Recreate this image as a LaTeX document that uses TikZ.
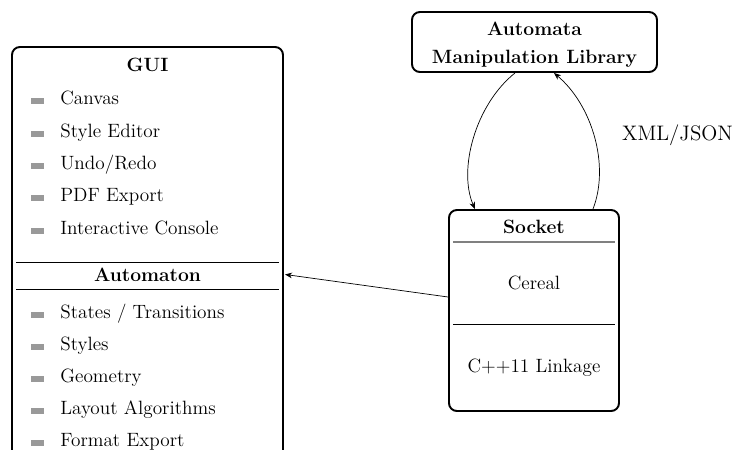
\documentclass[tikz,border=0pt]{standalone}
\usetikzlibrary{fit,calc,arrows.meta}
\begin{document}
\begin{tikzpicture}[x=0.5714pt,y=-0.5714pt,
  every node/.style={font=\fontsize{11pt}{13.6pt}\selectfont},
  frame/.style={draw, line width=1.1pt, rounded corners=4.5pt, inner sep=0pt, fill=white},
  title/.style={font=\fontsize{11pt}{13.6pt}\selectfont\bfseries, inner sep=0pt, anchor=base},
  plain/.style={inner sep=0pt, anchor=base},
  item/.style={anchor=base west, inner sep=0pt},
  bul/.style={fill=black!40, draw=none},
  sep/.style={line width=0.5pt},
  graysep/.style={line width=0.8pt, draw=black!50},
  link/.style={-{Stealth[length=4pt,width=3.2pt,inset=1.2pt]}, line width=0.4pt}]
\useasboundingbox (0,0) rectangle (737,450);

% GUI box
\node[frame, fit={(12,47) (283,460)}] (gui) {};
\node[title] (guit) at (147.5,71) {GUI};
\foreach \t [count=\i] in {Canvas, Style Editor, Undo/Redo, PDF Export, Interactive Console}{
  \pgfmathsetmacro{\b}{72.5+32.3*\i}
  \fill[bul] (31,\b-6.5) rectangle (44,\b-0.5);
  \node[item] (g\i) at (60,\b) {\t};
}
\draw[sep] (16,262) -- (279,262);
\node[title] (autt) at (147.5,281) {Automaton};
\draw[sep] (16,289) -- (279,289);
\foreach \t [count=\i] in {States / Transitions, Styles, Geometry, Layout Algorithms, Format Export}{
  \pgfmathsetmacro{\b}{286.5+32*\i}
  \fill[bul] (31,\b-6.5) rectangle (44,\b-0.5);
  \node[item] (a\i) at (60,\b) {\t};
}

% Automata Manipulation Library
\node[frame, fit={(412,12) (657,72)}] (aml) {};
\node[title] (aml1) at (534.5,35) {Automata};
\node[title] (aml2) at (534.5,63) {Manipulation Library};

% Socket
\node[frame, fit={(449,210) (619,411)}] (sock) {};
\node[title] (sockt) at (534,233) {Socket};
\draw[graysep] (453,242) -- (615,242);
\node[plain] (cer) at (534,289) {Cereal};
\draw[sep] (453,324) -- (615,324);
\node[plain] (cpp) at (534,372) {C++11 Linkage};

% XML/JSON label
\node[inner sep=0pt, font=\fontsize{12pt}{14.5pt}\selectfont] (xml) at (677.5,135) {XML/JSON};

% connectors
\draw[link] ($(aml.south)+(-19.5,0)$) .. controls (475,105) and (458,170) .. ($(sock.north)+(-59,0)$);
\draw[link] ($(sock.north)+(59,0)$) .. controls (610,165) and (592,105) .. ($(aml.south)+(19.5,0)$);
\draw[link, shorten >=0.6pt] ($(sock.west)+(0,-13.5)$) -- (gui.east |- autt.center);
\end{tikzpicture}
\end{document}
